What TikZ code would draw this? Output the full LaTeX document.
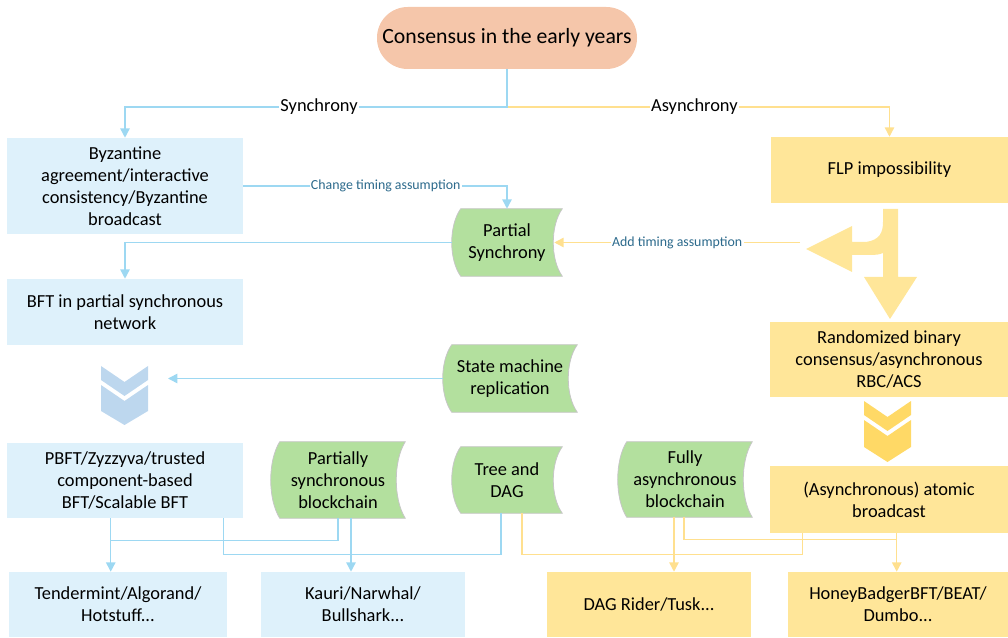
\documentclass[tikz,border=0pt]{standalone}
\usepackage{fontspec}
\setmainfont{Carlito}
\usetikzlibrary{arrows.meta,calc}
\pgfdeclarelayer{bg}
\pgfsetlayers{bg,main}
\definecolor{bfill}{HTML}{DEF1FB}
\definecolor{yfill}{HTML}{FFE699}
\definecolor{gfill}{HTML}{B3E09E}
\definecolor{sfill}{HTML}{F5C6AA}
\definecolor{bln}{HTML}{9DD8F2}
\definecolor{yln}{HTML}{FFE08F}
\definecolor{lbl}{HTML}{2C6A8C}
\definecolor{bchev}{HTML}{BDD7EE}
\definecolor{ychev}{HTML}{FFD966}
\newcommand\greenshape[1]{%
  \path[gshape] ($(#1.north west)+(9,0)$) -- (#1.north east)
    .. controls ($(#1.north east)!0.25!(#1.south east)+(-12,0)$) and ($(#1.north east)!0.75!(#1.south east)+(-12,0)$) .. (#1.south east)
    -- ($(#1.south west)+(9,0)$)
    .. controls ($(#1.south west)!0.25!(#1.north west)+(-3,0)$) and ($(#1.south west)!0.75!(#1.north west)+(-3,0)$) .. ($(#1.north west)+(9,0)$)
    -- cycle;}
\begin{document}
\begin{tikzpicture}[x=0.75pt,y=-0.75pt,
  box/.style={rectangle,inner sep=2pt,align=center,font=\fontsize{13.8}{16.5}\selectfont,text=black},
  bbox/.style={box,fill=bfill},
  ybox/.style={box,fill=yfill},
  gbox/.style={box},
  gshape/.style={fill=gfill,draw=gray!45,line width=0.6pt},
  bline/.style={draw=bln,line width=1.1pt},
  yline/.style={draw=yln,line width=1.1pt},
  arr/.style={-{Triangle[width=7pt,length=7pt]}},
  lab/.style={fill=white,inner sep=1pt,font=\fontsize{13.8}{16.5}\selectfont},
  slab/.style={fill=white,inner sep=1pt,text=lbl,font=\fontsize{10.4}{12}\selectfont}]
\useasboundingbox (0,0) rectangle (1008,638);

% nodes
\node[box,fill=sfill,rounded corners=23pt,minimum width=195pt,minimum height=46.5pt,font=\fontsize{16.3}{19}\selectfont] (top) at (507,38) {Consensus in the early years};
\node[bbox,minimum width=177pt,minimum height=72pt] (byz) at (125,186) {Byzantine\\agreement/interactive\\consistency/Byzantine\\broadcast};
\node[ybox,minimum width=177.75pt,minimum height=49.5pt] (flp) at (889.5,170) {FLP impossibility};
\node[gbox,minimum width=82.5pt,minimum height=50.25pt] (ps) at (507,242.5) {Partial\\Synchrony};
\node[bbox,minimum width=177pt,minimum height=49.5pt] (bft) at (125,312) {BFT in partial synchronous\\network};
\node[gbox,minimum width=100.5pt,minimum height=50.25pt] (smr) at (510,378.5) {State machine\\replication};
\node[ybox,minimum width=178.5pt,minimum height=56.25pt] (rand) at (889,359.5) {Randomized binary\\consensus/asynchronous\\RBC/ACS};
\node[bbox,minimum width=177pt,minimum height=56.25pt] (pbft) at (125,480.5) {PBFT/Zyzzyva/trusted\\component-based\\BFT/Scalable BFT};
\node[gbox,minimum width=100.5pt,minimum height=57pt] (psb) at (338,480) {Partially\\synchronous\\blockchain};
\node[gbox,minimum width=82.5pt,minimum height=49.5pt] (td) at (507,480) {Tree and\\DAG};
\node[gbox,minimum width=100.5pt,minimum height=56.25pt] (fab) at (685,479.5) {Fully\\asynchronous\\blockchain};
\node[ybox,minimum width=178.5pt,minimum height=50.25pt] (ab) at (889,499.5) {(Asynchronous) atomic\\broadcast};
\node[bbox,minimum width=163.5pt,minimum height=48.75pt] (tend) at (118,604.5) {Tendermint/Algorand/\\Hotstuff...};
\node[bbox,minimum width=153pt,minimum height=48.75pt] (kauri) at (363,604.5) {Kauri/Narwhal/\\Bullshark...};
\node[ybox,minimum width=153pt,minimum height=48.75pt] (dag) at (649,604.5) {DAG Rider/Tusk...};
\node[ybox,minimum width=165pt,minimum height=48.75pt] (hb) at (898,604.5) {HoneyBadgerBFT/BEAT/\\Dumbo...};

\begin{pgfonlayer}{bg}
  \greenshape{ps}
  \greenshape{smr}
  \greenshape{psb}
  \greenshape{td}
  \greenshape{fab}
\end{pgfonlayer}

% fork arrow
\fill[yfill] (883,209) -- (898,209) -- (898,277) -- (917,277) -- (890,319) -- (864,277) -- (883,277) -- (883,253)
  .. controls (878,255) .. (852,255) -- (852,272) -- (806,249) -- (852,226) -- (852,242) -- (866,242)
  .. controls (880,240) and (883,232) .. (883,222) -- cycle;
\coordinate (fk) at (800,242.5);

% chevrons
\fill[bchev] (101,366) -- (124.5,382) -- (148,366) -- (148,380) -- (124.5,396) -- (101,380) -- cycle;
\fill[bchev] (101,385) -- (124.5,401) -- (148,385) -- (148,411) -- (124.5,425) -- (101,411) -- cycle;
\begin{scope}[shift={(763,35)}]
\fill[ychev] (101,366) -- (124.5,382) -- (148,366) -- (148,380) -- (124.5,396) -- (101,380) -- cycle;
\fill[ychev] (101,385) -- (124.5,401) -- (148,385) -- (148,412) -- (124.5,427) -- (101,412) -- cycle;
\end{scope}
\coordinate (chv) at (168,378.5);

% connectors
\coordinate (split) at (507,107);
\draw[yline,arr] (split) -| node[lab,pos=0.245]{Asynchrony} (flp.north);
\draw[bline,arr] (top.south) -- (split) -| node[lab,pos=0.246]{Synchrony} (byz.north);
\draw[bline,arr] (byz.east) -| node[slab,pos=0.27]{Change timing assumption} (ps.north);
\draw[bline,arr] (ps.west) -| (bft.north);
\draw[yline,arr] (fk) -- node[slab]{Add timing assumption} ($(ps.east)+(-8,0)$);
\draw[bline,arr] (smr.west) -- (chv);

\draw[bline,arr] ($(pbft.south west)+(104,0)$) coordinate (p1) -- (p1 |- tend.north);
\draw[bline] (psb.south) -- ++(0,22) -| (p1);
\draw[bline,arr] ($(psb.south)+(13,0)$) coordinate (p2) -- (p2 |- kauri.north);
\draw[bline] ($(pbft.south east)+(-20,0)$) -- ++(0,36) -| ($(td.south)+(-6,0)$);

\draw[yline] ($(td.south)+(15,0)$) -- ++(0,41) -| ($(ab.south west)+(33,0)$);
\draw[yline,arr] ($(fab.south)+(-11,0)$) coordinate (p3) -- (p3 |- dag.north);
\draw[yline] ($(fab.south)+(-1,0)$) -- ++(0,22) -| ($(ab.south west)+(127,0)$);
\draw[yline,arr] ($(ab.south west)+(127,0)$) coordinate (p4) -- (p4 |- hb.north);
\end{tikzpicture}
\end{document}
